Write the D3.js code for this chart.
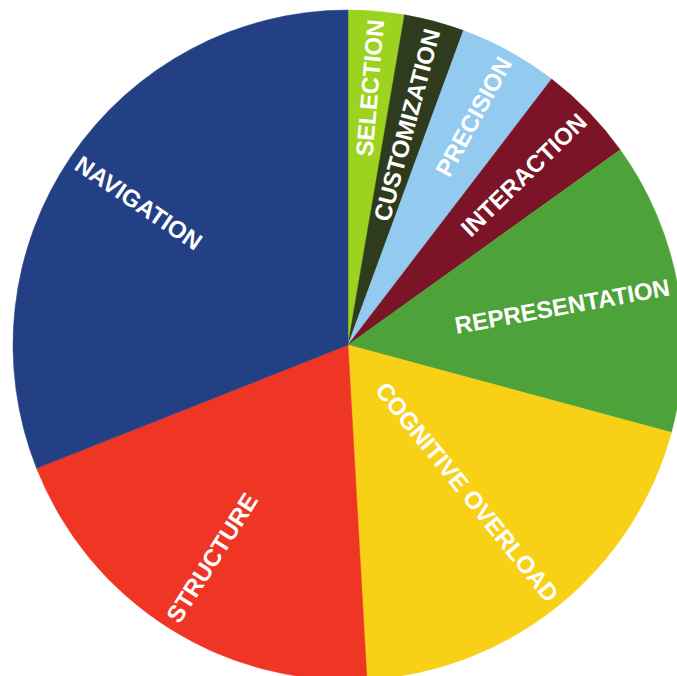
<!DOCTYPE html>
<html>
<head>
<meta charset="utf-8">
<script src="https://cdn.jsdelivr.net/npm/d3@7/dist/d3.min.js"></script>
<style>
  html, body { margin: 0; padding: 0; background: #ffffff; }
  svg { display: block; }
</style>
</head>
<body>
<svg id="chart" width="677" height="676"></svg>
<script>
// Share of issues per category, clockwise from 12 o'clock
const categories = ["SELECTION", "CUSTOMIZATION", "PRECISION", "INTERACTION",
                    "REPRESENTATION", "COGNITIVE OVERLOAD", "STRUCTURE", "NAVIGATION"];
const shares = [2.7, 2.9, 4.8, 4.7, 14.1, 19.9, 19.9, 31.0];
const colors = ["#9cd31e", "#2f3b1d", "#93caef", "#7a1426",
                "#4ea23a", "#f8d016", "#ef3523", "#244084"];

const width = 677, height = 676;
const cx = 348, cy = 345, radius = 335;

const svg = d3.select("#chart");
const g = svg.append("g").attr("transform", `translate(${cx},${cy})`);

const data = categories.map((c, i) => ({ name: c, value: shares[i], color: colors[i] }));

const pie = d3.pie().sort(null).value(d => d.value);
const arc = d3.arc().innerRadius(0).outerRadius(radius);
const arcs = pie(data);

// clip labels to the pie disc
svg.append("defs").append("clipPath").attr("id", "disc")
  .append("circle").attr("r", radius - 1);

g.selectAll("path.slice")
  .data(arcs)
  .join("path")
  .attr("class", "slice")
  .attr("d", arc)
  .attr("fill", d => d.data.color)
  .attr("stroke", d => d.data.color)
  .attr("stroke-width", 0.5);

// Radial labels: outer end of each label sits near the rim
const labelR = radius * 0.975;
const labels = g.append("g").attr("clip-path", "url(#disc)");

labels.selectAll("text")
  .data(arcs)
  .join("text")
  .each(function(d) {
    const mid = (d.startAngle + d.endAngle) / 2;           // radians clockwise from top
    const deg = mid * 180 / Math.PI;
    const x = Math.sin(mid) * labelR;
    const y = -Math.cos(mid) * labelR;
    const rightSide = mid < Math.PI;
    // text runs along the radius; right half reads outward, left half reads inward
    const rot = rightSide ? deg - 90 : deg + 90;
    d3.select(this)
      .attr("transform", `translate(${x},${y}) rotate(${rot})`)
      .attr("text-anchor", rightSide ? "end" : "start")
      .attr("dominant-baseline", "central");
  })
  .attr("fill", "#ffffff")
  .attr("font-family", "'Liberation Sans', Arial, Helvetica, sans-serif")
  .attr("font-weight", "bold")
  .attr("font-size", 24)
  .text(d => d.data.name);
</script>
</body>
</html>
